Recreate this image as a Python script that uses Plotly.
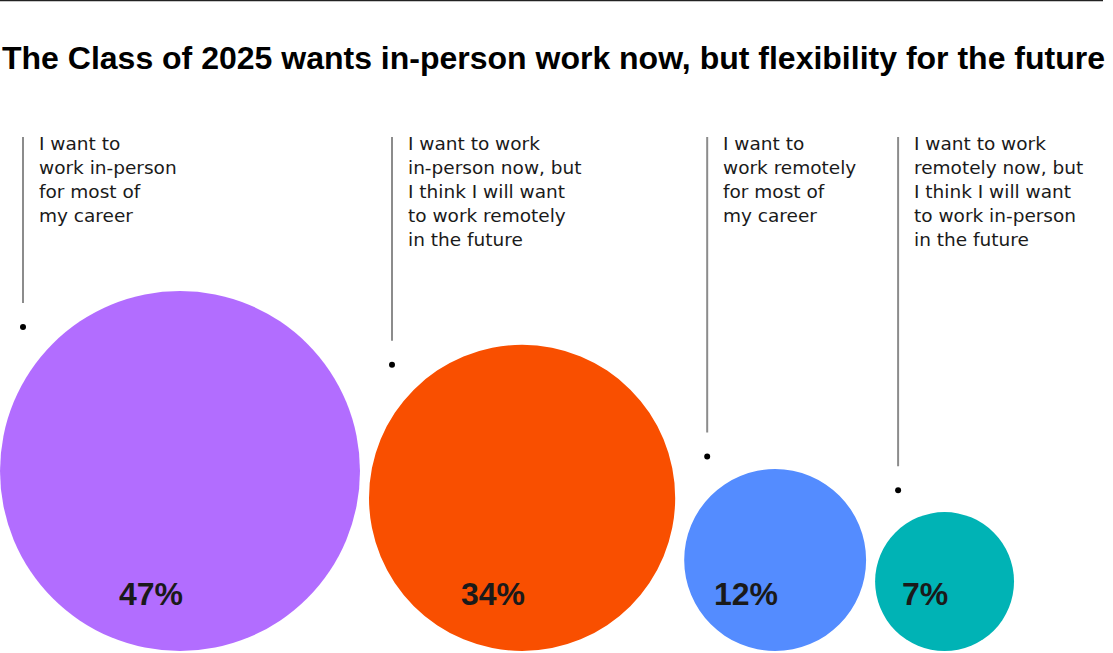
import math
import plotly.graph_objects as go

# Chart data
categories = [
    "In-person for most of career",
    "In-person now, remote later",
    "Remote for most of career",
    "Remote now, in-person later",
]
label_lines = [
    ["I want to", "work in-person", "for most of", "my career"],
    ["I want to work", "in-person now, but", "I think I will want", "to work remotely", "in the future"],
    ["I want to", "work remotely", "for most of", "my career"],
    ["I want to work", "remotely now, but", "I think I will want", "to work in-person", "in the future"],
]
shares = [47, 34, 12, 7]

TITLE = "The Class of 2025 wants in-person work now, but flexibility for the future"

# Formatting
W, H = 1113, 653
FILL = ["#B26DFF", "#F94F00", "#548CFF", "#00B3B5"]
TEXT = "#1a1a1a"
LEADER = "#8c8c8c"
FONT = "Liberation Sans, Arial, sans-serif"
LABEL_FONT = "DejaVu Sans, sans-serif"

R_SCALE = 180 / math.sqrt(max(shares))  # area-proportional bubbles
GAP = 9
BASE_Y = 651
LINE_TOP = 137

fig = go.Figure()

# thin rule at the very top
fig.add_shape(type="line", x0=0, x1=1103, y0=0.5, y1=0.5, line=dict(color="#222", width=1.5))

left = 0
for i, share in enumerate(shares):
    r = R_SCALE * math.sqrt(share)
    cx = left + r
    cy = BASE_Y - r

    fig.add_shape(
        type="circle", x0=left, x1=left + 2 * r, y0=BASE_Y - 2 * r, y1=BASE_Y,
        fillcolor=FILL[i], line_width=0, layer="below",
    )

    # leader line + dot just outside the bubble
    lx = left + 23
    dot_y = cy - math.sqrt((r + 33) ** 2 - (cx - lx) ** 2)
    fig.add_shape(type="line", x0=lx, x1=lx, y0=LINE_TOP, y1=dot_y - 24,
                  line=dict(color=LEADER, width=2))
    fig.add_shape(type="circle", x0=lx - 3, x1=lx + 3, y0=dot_y - 3, y1=dot_y + 3,
                  fillcolor="#000", line_width=0)

    fig.add_annotation(
        x=lx + 14, y=LINE_TOP - 6, xanchor="left", yanchor="top", align="left",
        text="<br>".join(label_lines[i]), showarrow=False,
        font=dict(size=18.5, family=LABEL_FONT, color=TEXT),
    )

    fig.add_annotation(
        x=cx + 5, y=594, xanchor="right", yanchor="middle",
        text=f"<b>{share}%</b>", showarrow=False,
        font=dict(size=32, family=FONT, color=TEXT),
    )

    left += 2 * r + GAP

fig.add_annotation(
    xref="paper", yref="paper", x=0, y=1 - 58 / H, xanchor="left", yanchor="middle",
    text=f"<b>{TITLE}</b>", showarrow=False,
    font=dict(size=32, family=FONT, color="#000"),
)

fig.update_xaxes(range=[0, W], visible=False, fixedrange=True)
fig.update_yaxes(range=[H, 0], visible=False, fixedrange=True)
fig.update_layout(
    width=W, height=H, margin=dict(l=0, r=0, t=0, b=0),
    paper_bgcolor="white", plot_bgcolor="white", showlegend=False,
)

# drop the browser's default body margin so the figure sits at the page corner
fig.write_html(
    "out.html",
    config={"displayModeBar": False},
    post_script="document.body.style.margin = '0';",
)
